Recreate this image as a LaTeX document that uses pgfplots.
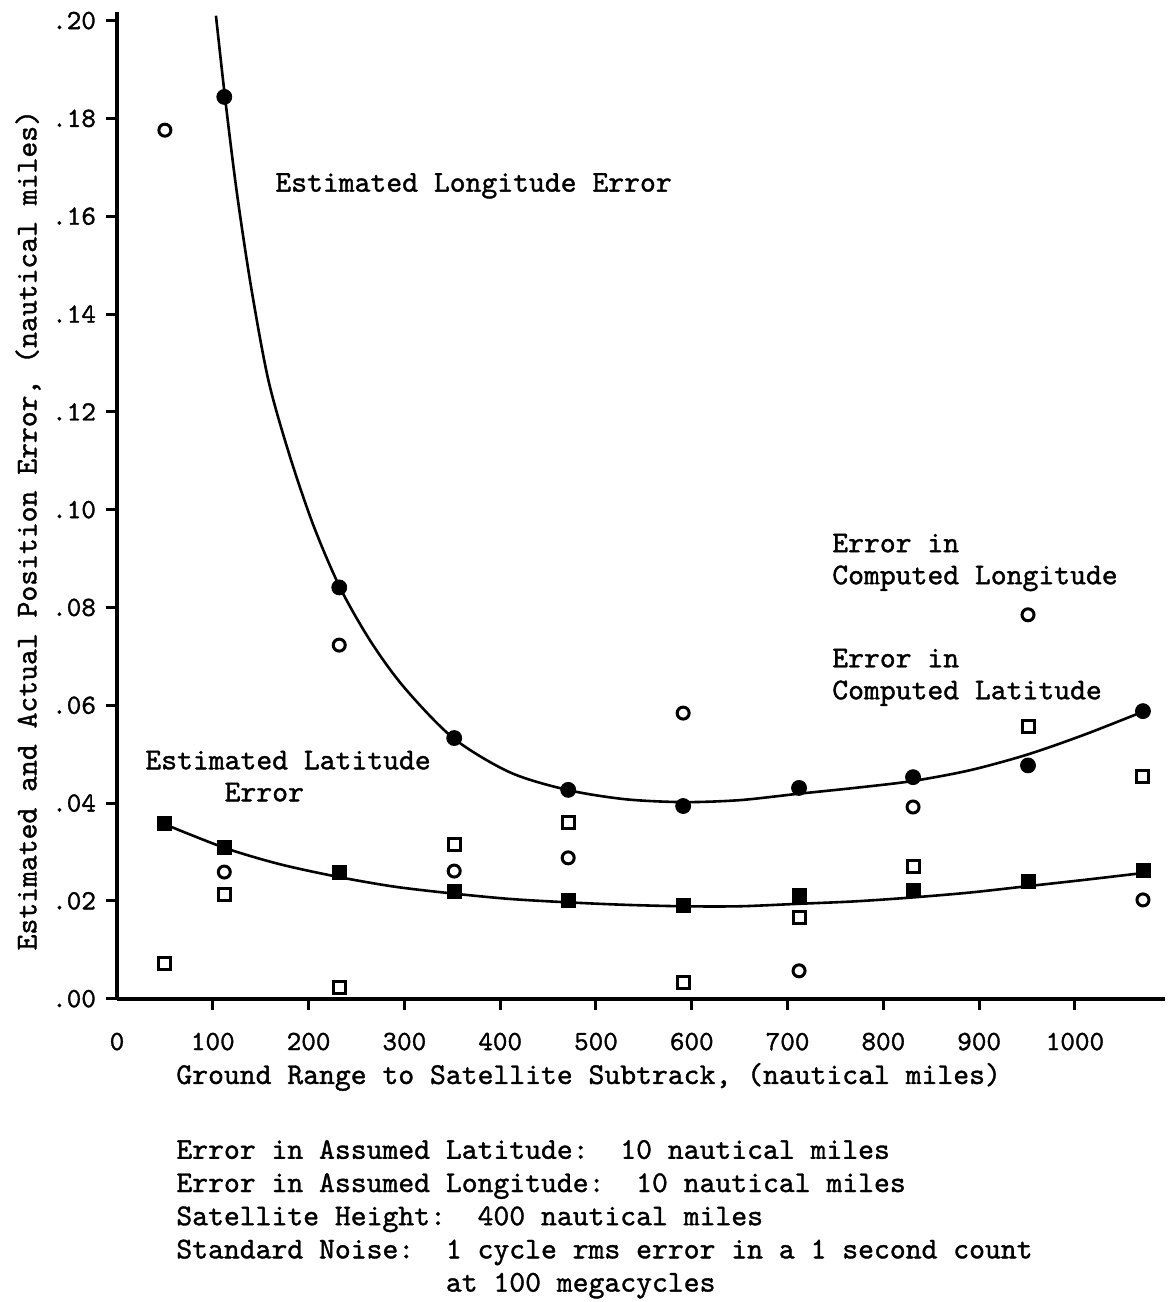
\documentclass[border=0pt]{standalone}
\usepackage{fontspec}
\usepackage{pgfplots}
\pgfplotsset{compat=1.18}

% typewriter look: Latin Modern Mono, slightly emboldened
\newfontfamily\twf{lmmono10-regular}[Extension=.otf, FakeBold=1.2]
\newcommand\tw{\twf\fontsize{15.1pt}{16pt}\selectfont}
\newcommand\twn{\twf\fontsize{15.1pt}{16.6pt}\selectfont}
\newcommand\twt{\twf\fontsize{13.9pt}{15pt}\selectfont}

\begin{document}
\begin{tikzpicture}
\begin{axis}[
  scale only axis, width=524pt, height=493.2pt,
  xmin=0, xmax=1094, ymin=0, ymax=0.2017,
  axis x line=bottom, axis y line=left,
  axis line style={line width=2pt, -},
  xtick={100,200,300,400,500,600,700,800,900,1000},
  xticklabels={100,200,300,400,500,600,700,800,900,1000},
  extra x ticks={0}, extra x tick labels={0},
  extra x tick style={major tick style={draw=none}},
  ytick={0,0.02,0.04,0.06,0.08,0.1,0.12,0.14,0.16,0.18,0.2},
  yticklabels={.00,.02,.04,.06,.08,.10,.12,.14,.16,.18,.20},
  tick align=outside, major tick length=5.5pt,
  tick style={line width=1.5pt, black},
  ticklabel style={font=\twt},
  xticklabel style={yshift=-8pt},
  yticklabel style={xshift=-1.5pt},
  clip=false,
]
\coordinate (O) at (axis cs:0,0);

% estimated longitude error curve
\addplot[smooth, line width=1.3pt] coordinates {
  (103.3,0.2010)(112.7,0.1844)(125,0.1650)(140,0.1455)(158,0.1265)
  (180,0.1112)(205,0.0968)(233,0.0840)(265,0.0730)(300,0.0636)
  (351,0.0533)(410,0.0463)(470,0.0427)(530,0.0408)(591,0.0402)
  (650,0.0406)(711,0.0419)(770,0.0431)(830,0.0445)(890,0.0467)
  (950,0.0499)(1010,0.0540)(1071,0.0587)
};
% estimated latitude error curve
\addplot[smooth, line width=1.3pt] coordinates {
  (52,0.0355)(113,0.0308)(170,0.0275)(231,0.0249)(290,0.0229)
  (351,0.0215)(410,0.0204)(471,0.0197)(530,0.0192)(591,0.0189)
  (650,0.0189)(711,0.0194)(770,0.0199)(830,0.0207)(890,0.0217)
  (950,0.0230)(1010,0.0243)(1071,0.0257)
};

% estimated longitude error points
\addplot[only marks, mark=*, mark size=3.75pt, black] coordinates {
  (112,0.1844)(232,0.0841)(352,0.0533)(471,0.0427)(591,0.0394)
  (712,0.0431)(831,0.0453)(951,0.0477)(1071,0.0588)
};
% estimated latitude error points
\addplot[only marks, mark=square*, mark size=3.5pt, black] coordinates {
  (50,0.0359)(112,0.0310)(232,0.0259)(352,0.0220)(471,0.0202)
  (591,0.0190)(712,0.0212)(831,0.0222)(951,0.0239)(1071,0.0262)
};
% error in computed longitude
\addplot[only marks, mark=o, mark size=3pt, black, mark options={line width=1.5pt}] coordinates {
  (50,0.1776)(112,0.0259)(232,0.0723)(352,0.0261)(471,0.0288)
  (591,0.0584)(712,0.0057)(831,0.0392)(951,0.0785)(1071,0.0202)
};
% error in computed latitude
\addplot[only marks, mark=square, mark size=3pt, black, mark options={line width=1.5pt}] coordinates {
  (50,0.0073)(112,0.0214)(232,0.0022)(352,0.0316)(471,0.0361)
  (591,0.0034)(712,0.0167)(831,0.0270)(951,0.0556)(1071,0.0455)
};

\node[anchor=west, inner sep=0pt, font=\tw] at (axis cs:164.9,0.1662) {Estimated Longitude Error};
\node[anchor=west, inner sep=0pt, align=left, font=\tw] at (axis cs:746.3,0.0892) {Error in\\Computed Longitude};
\node[anchor=west, inner sep=0pt, align=left, font=\tw] at (axis cs:746.3,0.0657) {Error in\\Computed Latitude};
\node[anchor=west, inner sep=0pt, align=left, font=\tw] at (axis cs:29.2,0.0455) {Estimated Latitude\\\phantom{Estim}Error};

\node[rotate=90, inner sep=0pt, font=\tw] at (axis cs:-92.9,0.0958) {Estimated and Actual Position Error, (nautical miles)};
\node[anchor=west, inner sep=0pt, font=\tw] at (axis cs:61.6,-0.0160) {Ground Range to Satellite Subtrack, (nautical miles)};
\node[anchor=west, inner sep=0pt, align=left, font=\twn] at (axis cs:61.6,-0.0451) {%
Error in Assumed Latitude:\ \ 10 nautical miles\\
Error in Assumed Longitude:\ \ 10 nautical miles\\
Satellite Height:\ \ 400 nautical miles\\
Standard Noise:\ \ 1 cycle rms error in a 1 second count\\
\phantom{Standard Noise:\ \ }at 100 megacycles};
\end{axis}
\pgfresetboundingbox
\path[use as bounding box] ([shift={(-58.5pt,-151.65pt)}]O) rectangle ++(586.5pt,651pt);
\end{tikzpicture}
\end{document}
